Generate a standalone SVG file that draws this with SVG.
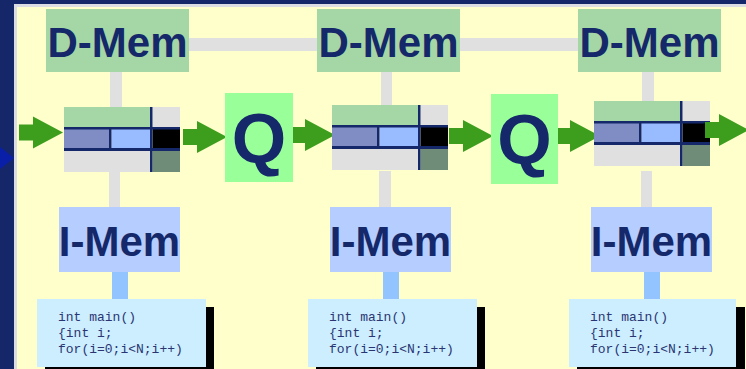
<svg xmlns="http://www.w3.org/2000/svg" xmlns:xlink="http://www.w3.org/1999/xlink" width="746" height="369" viewBox="0 0 746 369">
  <style>
    .lbl { font-family: "Liberation Sans", Arial, sans-serif; font-weight: bold; fill: #14286a; text-anchor: middle; }
    .mem { font-size: 42px; }
    .q { font-size: 70px; }
    .code { font-family: "Liberation Mono", "Courier New", monospace; font-size: 13px; fill: #2a3572; }
    .dmem { fill: #a5d6a5; }
    .imem { fill: #b5cdff; }
    .qbox { fill: #99ff99; }
    .bus { fill: #e0e0e0; }
    .ilink { fill: #94c4ff; }
    .codebox { fill: #cceeff; }
    .shadow { fill: #000000; }
    .arrow { fill: #3d9e1e; }
  </style>
  <defs>
    <!-- fat right-pointing arrow, tip at the origin -->
    <path id="fat-arrow" d="M-44,-8 H-30 V-16 L0,0 L-30,16 V8 H-44 Z"/>
    <!-- one pipeline stage register block -->
    <g id="stage">
      <rect x="0" y="0" width="86" height="20" fill="#a5d6a5"/>
      <rect x="88.5" y="0" width="27.5" height="20" fill="#e0e0e0"/>
      <rect x="0" y="22" width="45" height="19" fill="#808cc4"/>
      <rect x="47.5" y="22" width="38.5" height="19" fill="#99bbff"/>
      <rect x="88.5" y="22" width="27.5" height="19" fill="#000000"/>
      <rect x="0" y="44" width="86" height="21" fill="#e0e0e0"/>
      <rect x="88.5" y="44" width="27.5" height="21" fill="#6e8c78"/>
      <rect x="0" y="20" width="116" height="2.5" fill="#14286a"/>
      <rect x="0" y="41" width="116" height="3" fill="#14286a"/>
      <rect x="45" y="22" width="2.5" height="19" fill="#14286a"/>
      <rect x="86" y="0" width="2.5" height="65" fill="#14286a"/>
    </g>
  </defs>

  <!-- slide frame -->
  <rect x="0" y="0" width="746" height="369" fill="#ffffcc"/>
  <rect x="0" y="0" width="746" height="4" fill="#162769"/>
  <rect x="14" y="4" width="732" height="3" fill="#dcdce4"/>
  <rect x="0" y="0" width="14" height="369" fill="#162769"/>
  <rect x="14" y="4" width="3" height="365" fill="#dcdce4"/>
  <polygon points="0,147 14,158 0,169" fill="#0a1fa8"/>

  <!-- connectors -->
  <g id="connectors">
    <rect class="bus" x="189" y="38" width="128" height="13"/>
    <rect class="bus" x="460" y="38" width="118" height="13"/>
    <rect class="bus" x="110" y="72" width="12" height="35"/>
    <rect class="bus" x="381" y="72" width="11" height="33"/>
    <rect class="bus" x="642" y="72" width="12" height="29"/>
    <rect class="bus" x="109" y="172" width="11" height="35"/>
    <rect class="bus" x="379" y="171" width="12" height="36"/>
    <rect class="bus" x="641" y="171" width="11" height="36"/>
    <rect class="ilink" x="112" y="272" width="16" height="27"/>
    <rect class="ilink" x="383" y="272" width="16" height="27"/>
    <rect class="ilink" x="644" y="272" width="16" height="27"/>
    <use xlink:href="#fat-arrow" class="arrow" x="63" y="132.5"/>
    <use xlink:href="#fat-arrow" class="arrow" x="227" y="137"/>
    <use xlink:href="#fat-arrow" class="arrow" x="335" y="135"/>
    <use xlink:href="#fat-arrow" class="arrow" x="493" y="136"/>
    <use xlink:href="#fat-arrow" class="arrow" x="600" y="136"/>
  </g>

  <!-- data memories -->
  <g id="dmem1">
    <rect class="dmem" x="46" y="9" width="143" height="63"/>
    <text class="lbl mem" x="117.5" y="57">D-Mem</text>
  </g>
  <g id="dmem2">
    <rect class="dmem" x="317" y="9" width="143" height="63"/>
    <text class="lbl mem" x="388.5" y="57">D-Mem</text>
  </g>
  <g id="dmem3">
    <rect class="dmem" x="578" y="9" width="143" height="63"/>
    <text class="lbl mem" x="649.5" y="57">D-Mem</text>
  </g>

  <!-- pipeline stages -->
  <g id="stage1"><use xlink:href="#stage" x="64" y="107"/></g>
  <g id="stage2"><use xlink:href="#stage" x="332" y="105"/></g>
  <g id="stage3"><use xlink:href="#stage" x="594" y="101"/></g>

  <!-- queues -->
  <g id="queue1">
    <rect class="qbox" x="225" y="93" width="68" height="89"/>
    <text class="lbl q" x="259" y="163">Q</text>
  </g>
  <g id="queue2">
    <rect class="qbox" x="491" y="94" width="67" height="90"/>
    <text class="lbl q" x="524.5" y="164">Q</text>
  </g>

  <!-- outgoing arrow -->
  <g id="out-arrow">
    <use xlink:href="#fat-arrow" class="arrow" x="749" y="130"/>
  </g>

  <!-- instruction memories -->
  <g id="imem1">
    <rect class="imem" x="59" y="207" width="121" height="65"/>
    <text class="lbl mem" x="119.5" y="256">I-Mem</text>
  </g>
  <g id="imem2">
    <rect class="imem" x="330" y="207" width="121" height="65"/>
    <text class="lbl mem" x="390.5" y="256">I-Mem</text>
  </g>
  <g id="imem3">
    <rect class="imem" x="591" y="207" width="121" height="65"/>
    <text class="lbl mem" x="651.5" y="256">I-Mem</text>
  </g>

  <!-- program listings -->
  <g id="code1">
    <rect class="shadow" x="45" y="307" width="169" height="68"/>
    <rect class="codebox" x="37" y="299" width="169" height="68"/>
    <text class="code" x="58" y="321">int main()</text>
    <text class="code" x="58" y="337">{int i;</text>
    <text class="code" x="58" y="353">for(i=0;i&lt;N;i++)</text>
  </g>
  <g id="code2">
    <rect class="shadow" x="316" y="307" width="169" height="68"/>
    <rect class="codebox" x="308" y="299" width="169" height="68"/>
    <text class="code" x="329" y="321">int main()</text>
    <text class="code" x="329" y="337">{int i;</text>
    <text class="code" x="329" y="353">for(i=0;i&lt;N;i++)</text>
  </g>
  <g id="code3">
    <rect class="shadow" x="577" y="307" width="168" height="68"/>
    <rect class="codebox" x="569" y="299" width="167" height="68"/>
    <text class="code" x="590" y="321">int main()</text>
    <text class="code" x="590" y="337">{int i;</text>
    <text class="code" x="590" y="353">for(i=0;i&lt;N;i++)</text>
  </g>
</svg>
